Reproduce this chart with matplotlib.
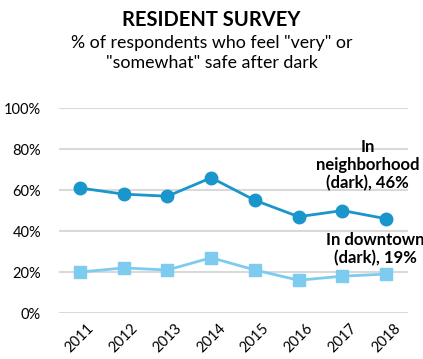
import matplotlib
matplotlib.use("Agg")
import matplotlib.pyplot as plt

# data
years = ["2011", "2012", "2013", "2014", "2015", "2016", "2017", "2018"]
neighborhood = [61, 58, 57, 66, 55, 47, 50, 46]
downtown = [20, 22, 21, 27, 21, 16, 18, 19]
yticks = [0, 20, 40, 60, 80, 100]

plt.rcParams['font.family'] = ['Lato', 'DejaVu Sans']

fig = plt.figure(figsize=(4.23, 3.59), dpi=100)
ax = fig.add_axes([0.1395, 0.128, 0.825, 0.571])

x = range(len(years))
ax.plot(x, neighborhood, color="#1a96cc", lw=2, marker="o", ms=9, clip_on=False, zorder=3)
ax.plot(x, downtown, color="#7dcbef", lw=2, marker="s", ms=9, clip_on=False, zorder=3)

ax.set_xlim(-0.48, 7.5)
ax.set_ylim(0, 100)
ax.set_yticks(yticks)
ax.set_yticklabels([f"{v}%" for v in yticks], fontsize=10.5)
ax.set_xticks(list(x))
ax.set_xticklabels(years, rotation=45, fontsize=10.5, ha="center")
ax.tick_params(length=0, pad=6)
ax.tick_params(axis="y", pad=13)
ax.grid(axis="y", color="#d9d9d9", lw=1.5)
ax.set_axisbelow(True)
for s in ax.spines.values():
    s.set_visible(False)

# direct labels
ax.text(6.57, 72, "In\nneighborhood\n(dark), 46%", ha="center", va="center",
        fontsize=12, fontweight="bold", linespacing=1.15)
ax.text(6.75, 31, "In downtown\n(dark), 19%", ha="center", va="center",
        fontsize=12, fontweight="bold", linespacing=1.15)

fig.text(0.5, 0.943, "RESIDENT SURVEY", ha="center", va="center",
         fontsize=14.5, fontweight="bold")
fig.text(0.5, 0.853, '% of respondents who feel "very" or\n"somewhat" safe after dark',
         ha="center", va="center", fontsize=12.8, linespacing=1.3)

fig.savefig("out.png", dpi=100)
